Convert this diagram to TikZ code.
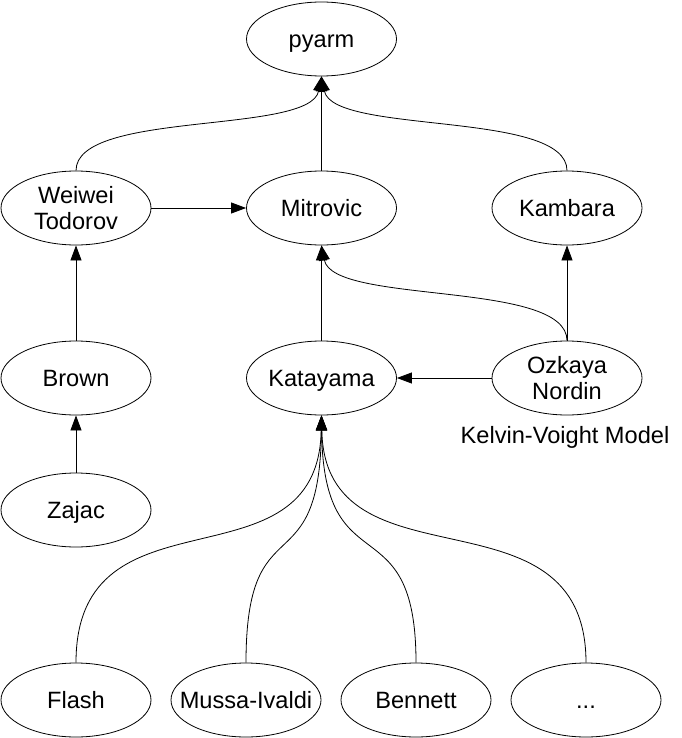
\documentclass[tikz,border=0pt]{standalone}
\usepackage{fontspec}
\setmainfont{Liberation Sans}
\usetikzlibrary{shapes.geometric,arrows.meta,positioning}
\tikzset{person/.style={ellipse,draw,line width=0.8pt,minimum width=150pt,minimum height=74pt,
		inner xsep=-20pt,inner ysep=0pt,font=\fontsize{23.6}{25.5}\selectfont},
	one/.style={person,text height=16.9pt,text depth=0pt},
	two/.style={person,align=center},
	note/.style={inner sep=0pt,text height=16.9pt,text depth=0pt,font=\fontsize{23.6}{25.5}\selectfont},
	cite/.style={-{Triangle[length=15pt,width=11pt]},line width=0.8pt}}

\begin{document}
\begin{tikzpicture}[x=1pt,y=-1pt]
\useasboundingbox (0,0) rectangle (681,738);
\node[one] (pyarm) at (321.5,39) {pyarm};
\node[two] (wt) at (76,208) {Weiwei\\Todorov};
\node[one] (mt) at (321.5,208) {Mitrovic};
\node[one] (kb) at (567,208) {Kambara};
\node[one] (br) at (76,378) {Brown};
\node[one] (kt) at (321.5,378) {Katayama};
\node[two] (oz) at (567,378) {Ozkaya\\Nordin};
\node[note,below=11pt of oz,xshift=-2pt] (kv) {Kelvin-Voight Model};
\node[one] (zj) at (76,510) {Zajac};
\node[one] (fl) at (76,700) {Flash};
\node[one] (mi) at (246,700) {Mussa-Ivaldi};
\node[one] (bn) at (416,700) {Bennett};
\node[one] (etc) at (586,700) {...};
% who builds on whom
\draw[cite] (wt.north) .. controls (76,110) and (310,135) .. (pyarm.south);
\draw[cite] (mt) -- (pyarm);
\draw[cite] (kb.north) .. controls (567,110) and (333,135) .. (pyarm.south);
\draw[cite] (wt) -- (mt);
\draw[cite] (br) -- (wt);
\draw[cite] (zj) -- (br);
\draw[cite] (kt) -- (mt);
\draw[cite] (oz) -- (kb);
\draw[cite] (oz.north) .. controls (567,280) and (333,305) .. (mt.south);
\draw[cite] (oz) -- (kt);
\draw[cite] (fl.north) .. controls (76,480) and (318,595) .. (kt.south);
\draw[cite] (mi.north) .. controls (246,500) and (320,590) .. (kt.south);
\draw[cite] (bn.north) .. controls (416,500) and (323,590) .. (kt.south);
\draw[cite] (etc.north) .. controls (586,480) and (325,595) .. (kt.south);
\end{tikzpicture}
\end{document}
